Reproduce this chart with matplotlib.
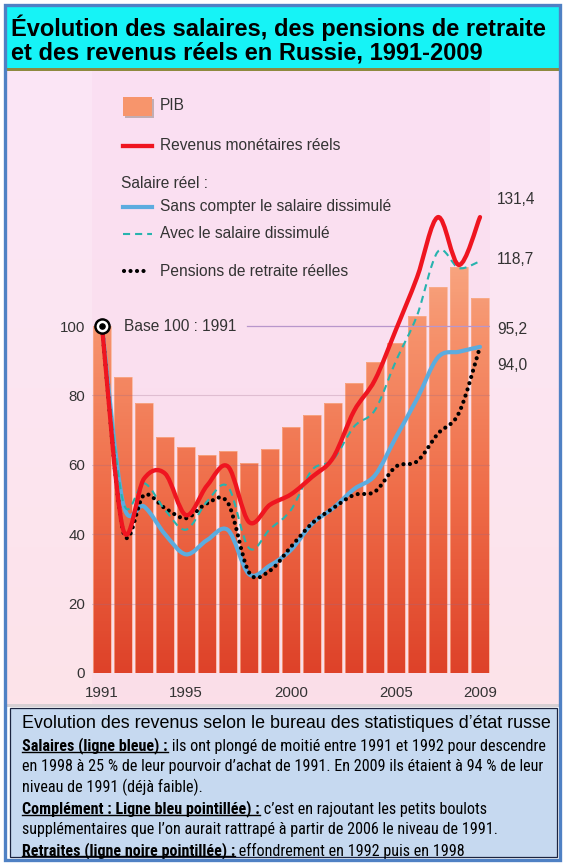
import numpy as np
import matplotlib
matplotlib.use("Agg")
import matplotlib.pyplot as plt
from matplotlib import font_manager
from matplotlib.path import Path
from matplotlib.patches import PathPatch, Rectangle
from matplotlib.colors import LinearSegmentedColormap

# --- data (base 100 = 1991) ---
years = list(range(1991, 2010))
pib = [100, 85.4, 77.9, 68.1, 65.2, 62.8, 64.1, 60.4, 64.5, 70.8,
       74.4, 77.9, 83.5, 89.7, 95.2, 102.9, 111.2, 117.1, 108.2]
revenus = [100, 41.5, 56.0, 57.5, 45.5, 54.0, 59.5, 43.5, 48.5, 51.5,
           56.5, 62.0, 75.5, 84.5, 99.0, 114.0, 131.4, 117.6, 131.4]
salaire = [100, 49.0, 48.0, 40.0, 34.2, 38.3, 41.2, 28.5, 31.0, 35.5,
           43.0, 47.5, 53.0, 57.0, 68.0, 79.0, 91.0, 92.6, 94.0]
salaire_dissimule = [100, 49.5, 54.7, 47.0, 41.3, 49.4, 53.7, 36.0, 41.5, 47.0,
                     58.5, 61.5, 71.0, 75.8, 90.0, 103.0, 121.5, 116.7, 118.7]
pensions = [100, 41.0, 51.3, 47.5, 44.6, 48.9, 49.0, 29.0, 29.5, 36.4,
            43.1, 47.5, 51.3, 52.3, 59.5, 61.0, 69.0, 75.0, 94.0]

xticks = [1991, 1995, 2000, 2005, 2009]
yticks = [0, 20, 40, 60, 80, 100]
end_labels = ["131,4", "118,7", "95,2", "94,0"]

title = ("Évolution des salaires, des pensions de retraite\n"
         "et des revenus réels en Russie, 1991-2009")
note_head = "Evolution des revenus selon le bureau des statistiques d\u2019état russe"
note_lines = [
    ("Salaires (ligne bleue) :", " ils ont plongé de moitié entre 1991 et 1992 pour descendre"),
    ("", "en 1998 à 25 % de leur pourvoir d\u2019achat de 1991. En 2009 ils étaient à 94 % de leur"),
    ("", "niveau de 1991 (déjà faible)."),
    ("Complément : Ligne bleu pointillée) :", " c\u2019est en rajoutant les petits boulots"),
    ("", "supplémentaires que l\u2019on aurait rattrapé à partir de 2006 le niveau de 1991."),
    ("Retraites (ligne noire pointillée) :", " effondrement en 1992 puis en 1998"),
]

# a narrow face for the note if one is installed
fonts = font_manager.fontManager.ttflist
body_font, body_stretch = 'Liberation Sans', 'normal'
for name in ['Liberation Sans Narrow', 'Arial Narrow', 'Roboto Condensed']:
    if any(f.name == name for f in fonts):
        body_font = name
        break
else:
    if any(f.name == 'DejaVu Sans' and f.stretch == 'condensed' for f in fonts):
        body_font, body_stretch = 'DejaVu Sans', 'condensed'

plt.rcParams['font.family'] = ['Liberation Sans', 'DejaVu Sans']
TXT = '#333333'
FS = 11.2


def smooth_path(xs, ys):
    # Catmull-Rom through the yearly values, drawn as cubic Bezier segments
    p = np.column_stack([xs, ys]).astype(float)
    ext = np.vstack([p[0], p, p[-1]])
    verts = [p[0]]
    codes = [Path.MOVETO]
    for i in range(len(p) - 1):
        p0, p1, p2, p3 = ext[i], ext[i + 1], ext[i + 2], ext[i + 3]
        verts += [p1 + (p2 - p0) / 6, p2 - (p3 - p1) / 6, p2]
        codes += [Path.CURVE4] * 3
    return Path(verts, codes)


W, H = 570, 865
fig = plt.figure(figsize=(W / 100, H / 100), dpi=100, facecolor='white')

# background layer in pixel coordinates
bg = fig.add_axes([0, 0, 1, 1], zorder=0)
bg.set_xlim(0, W)
bg.set_ylim(H, 0)
bg.axis('off')

grad_bg = LinearSegmentedColormap.from_list('bg', ['#fbe6f6', '#fce5f1', '#fde3e9'])
bg.imshow(np.linspace(0, 1, 64).reshape(-1, 1), cmap=grad_bg, aspect='auto',
          extent=(7, 559, 706, 70), zorder=0)
bg.add_patch(Rectangle((92, 70), 398, 636, facecolor='#f6c8e6', alpha=0.18,
                       edgecolor='none', zorder=0.5))
bg.add_patch(Rectangle((7, 704), 552, 3, facecolor='#d8d0d4', edgecolor='none', zorder=1))
# title box
bg.add_patch(Rectangle((7, 6), 552, 62, facecolor='#16f3f6', edgecolor='none', zorder=1))
bg.add_patch(Rectangle((7, 67.5), 552, 3, facecolor='#8e8a40', edgecolor='none', zorder=1))
bg.text(11, 39.5, title, fontsize=17, fontweight='bold', color='black',
        va='center', ha='left', linespacing=1.0, zorder=2)
# note box
bg.add_patch(Rectangle((10, 708), 547, 149, facecolor='#c6d9f0',
                       edgecolor='#1c2440', linewidth=0.9, zorder=1))
# outer frame
bg.add_patch(Rectangle((5, 4.5), 555, 855, facecolor='none',
                       edgecolor='#4f81c4', linewidth=2.4, zorder=3))

# --- chart ---
ax = fig.add_axes([91.5 / W, (H - 673) / H, 399 / W, 603 / H], zorder=1)
ax.patch.set_alpha(0)

bars = ax.bar(years, pib, width=0.88, facecolor='none', edgecolor='#f9b090',
              linewidth=0.5, zorder=1.2)
bar_path = Path.make_compound_path(
    *[b.get_path().transformed(b.get_patch_transform()) for b in bars])
clip = PathPatch(bar_path, transform=ax.transData, facecolor='none', edgecolor='none')
ax.add_patch(clip)
bar_cmap = LinearSegmentedColormap.from_list(
    'pib', [(0, '#de4229'), (0.42, '#ef6c48'), (0.83, '#f6936d'), (1, '#f8a681')])
img = ax.imshow(np.linspace(1, 0, 128).reshape(-1, 1), cmap=bar_cmap, aspect='auto',
                extent=(1990.5, 2009.5, 0, 120), zorder=1)
img.set_clip_path(clip)
ax.set_xlim(1990.5, 2009.5)
ax.set_ylim(0, 173.8)

for v in yticks[1:-1]:
    ax.axhline(v, color='#9a6a88', alpha=0.28, linewidth=0.8, zorder=2)
ax.axhline(100, xmin=(247 - 91.5) / 399, xmax=1, color='#b896cc', linewidth=0.9, zorder=2)

ax.add_patch(PathPatch(smooth_path(years, pensions), fill=False, edgecolor='black',
                       linewidth=3.0, linestyle=(0, (0.01, 1.55)), capstyle='round',
                       zorder=3.1))
ax.add_patch(PathPatch(smooth_path(years, salaire_dissimule), fill=False, edgecolor='#27b3ae',
                       linewidth=1.5, linestyle=(0, (3.4, 2.4)), zorder=3.2))
ax.add_patch(PathPatch(smooth_path(years, salaire), fill=False, edgecolor='#5cacdf',
                       linewidth=3.0, joinstyle='round', capstyle='round', zorder=3.0))
ax.add_patch(PathPatch(smooth_path(years, revenus), fill=False, edgecolor='#ef1520',
                       linewidth=3.1, joinstyle='round', capstyle='round', zorder=3.3))

ax.scatter([years[0]], [pib[0]], s=120, color='black', zorder=5)
ax.scatter([years[0]], [pib[0]], s=55, color='white', zorder=5.1)
ax.scatter([years[0]], [pib[0]], s=14, color='black', zorder=5.2)
ax.text(1992.05, 100, "Base 100 : 1991", fontsize=FS, color=TXT,
        va='center', ha='left', zorder=5)

for s in ax.spines.values():
    s.set_visible(False)
ax.set_yticks(yticks)
ax.set_xticks(xticks)
ax.tick_params(axis='both', length=0, labelsize=10.8, labelcolor=TXT)
ax.tick_params(axis='y', pad=4.6)
ax.tick_params(axis='x', pad=9.5)

# legend (drawn in pixel coordinates)
lx0, lx1, tx = 123, 152, 160
bg.add_patch(Rectangle((124.5, 99), 29, 19, facecolor='#8a7d78', alpha=0.5,
                       edgecolor='none', zorder=2))
bg.add_patch(Rectangle((123, 97), 29, 19, facecolor='#f7956c', edgecolor='none', zorder=2.1))
bg.text(tx, 106, "PIB", fontsize=FS, color=TXT, va='center', zorder=2)
bg.plot([lx0, lx1], [146, 146], color='#ef1520', linewidth=3.1, zorder=2)
bg.text(tx, 146, "Revenus monétaires réels", fontsize=FS, color=TXT, va='center', zorder=2)
bg.text(121, 184, "Salaire réel :", fontsize=FS, color=TXT, va='center', zorder=2)
bg.plot([lx0, lx1], [207, 207], color='#5cacdf', linewidth=3.0, zorder=2)
bg.text(tx, 207, "Sans compter le salaire dissimulé", fontsize=FS, color=TXT,
        va='center', zorder=2)
bg.plot([lx0, lx1], [234, 234], color='#27b3ae', linewidth=1.5,
        linestyle=(0, (3.4, 2.4)), zorder=2)
bg.text(tx, 234, "Avec le salaire dissimulé", fontsize=FS, color=TXT,
        va='center', zorder=2)
bg.plot([lx0 + 1, lx1 - 3], [271, 271], color='black', linewidth=3.0,
        linestyle=(0, (0.01, 1.55)), dash_capstyle='round', zorder=2)
bg.text(tx, 271, "Pensions de retraite réelles", fontsize=FS, color=TXT,
        va='center', zorder=2)

for lab, y in zip(end_labels, [200, 260, 329, 365]):
    bg.text(497, y, lab, fontsize=FS, color=TXT, va='center', ha='left', zorder=2)

# note text
bg.text(22, 724, note_head, fontsize=12.9, color='black', va='center', ha='left', zorder=2)
body_texts, bold_parts = [], []
body_kw = dict(family=[body_font, 'DejaVu Sans'], fontstretch=body_stretch,
               fontsize=10, zorder=2)
for i, (head, rest) in enumerate(note_lines):
    y = 746 + i * 20.9
    if head:
        t1 = bg.text(22, y, head, fontweight='bold', va='center', ha='left', **body_kw)
        t2 = bg.annotate(rest, xy=(1, 0), xycoords=t1, va='bottom', ha='left', **body_kw)
        bold_parts.append(t1)
        body_texts += [t1, t2]
    else:
        body_texts.append(bg.text(22, y, rest, va='center', ha='left', **body_kw))

# fit the note's size so its widest plain line fills the box like the original
fig.canvas.draw()
width = body_texts[2].get_window_extent().width
for t in body_texts:
    t.set_fontsize(10 * 519 / width)

fig.canvas.draw()
inv = bg.transData.inverted()
for t in bold_parts:
    bb = t.get_window_extent()
    (x0, y0), (x1, _) = inv.transform([(bb.x0, bb.y0 + 2.5), (bb.x1, bb.y0)])
    bg.plot([x0, x1], [y0, y0], color='black', linewidth=1.0, zorder=2)

fig.savefig("out.png", dpi=100, facecolor=fig.get_facecolor())
